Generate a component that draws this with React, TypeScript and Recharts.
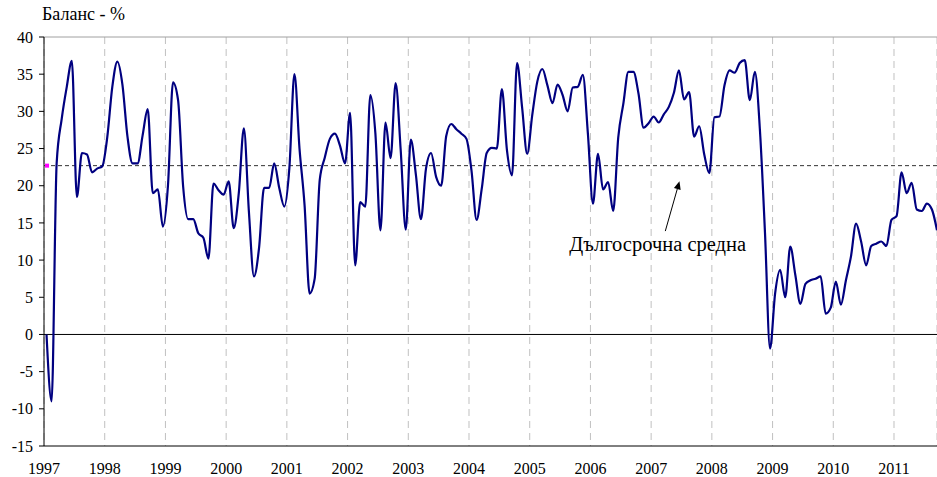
import { LineChart, Line, XAxis, YAxis, CartesianGrid, ReferenceLine, ReferenceDot } from 'recharts';

// monthly balance, one array per year
const v1997 = [0, -9, 23, 29, 33.3, 36.8, 18.5, 24.4, 24.2, 21.8, 22.3, 22.6];
const v1998 = [26.5, 33.3, 36.7, 33.6, 26.6, 23, 23, 26.8, 30.3, 19, 19.5, 14.5];
const v1999 = [20, 33.9, 31.5, 19.9, 15.5, 15.5, 13.6, 13, 10.2, 20.3, 19.4, 18.8];
const v2000 = [20.6, 14.3, 19, 27.7, 16.5, 7.8, 11.6, 19.7, 19.7, 23, 19.7, 17.2];
const v2001 = [22.4, 35, 25, 17.4, 5.5, 7.5, 20.8, 23.8, 26.3, 27, 25.4, 23];
const v2002 = [29.8, 9.3, 17.8, 17.2, 32.2, 27, 14, 28.5, 23.7, 33.8, 24.8, 14.1];
const v2003 = [26.2, 21.5, 15.5, 22.3, 24.4, 21.2, 20, 26.7, 28.3, 27.6, 27, 26.3];
const v2004 = [22, 15.4, 19.5, 24.4, 25.1, 25, 33, 24.8, 21.4, 36.5, 30.5, 24.3];
const v2005 = [29.5, 34, 35.7, 33.5, 31.1, 33.6, 32.2, 30, 33.2, 33.3, 34.9, 27];
const v2006 = [17.6, 24.3, 19.5, 20.5, 16.6, 26.5, 31, 35.3, 35.3, 32.4, 27.8, 28.4];
const v2007 = [29.3, 28.5, 29.6, 30.6, 32.5, 35.5, 31.6, 32.6, 26.6, 28, 24.2, 21.7];
const v2008 = [29.2, 29.3, 33.5, 35.5, 35.2, 36.5, 36.9, 31.5, 35.3, 27.5, 13.7, -1.9];
const v2009 = [5.5, 8.7, 5, 11.8, 8, 4.1, 6.8, 7.3, 7.5, 7.8, 2.8, 3.6];
const v2010 = [7.1, 4, 7.3, 10.5, 14.9, 12.5, 9.3, 11.9, 12.2, 12.5, 11.9, 15.4];
const v2011 = [15.9, 21.8, 19, 20.4, 16.8, 16.6, 17.6, 16.8, 14];

const years = [1997, 1998, 1999, 2000, 2001, 2002, 2003, 2004, 2005, 2006, 2007, 2008, 2009, 2010, 2011];
const yTicks = [-15, -10, -5, 0, 5, 10, 15, 20, 25, 30, 35, 40];
const longTermAvg = 22.7;
const title = 'Баланс - %';
const note = 'Дългосрочна средна';

const monthly = [
  ...v1997, ...v1998, ...v1999, ...v2000, ...v2001, ...v2002, ...v2003, ...v2004,
  ...v2005, ...v2006, ...v2007, ...v2008, ...v2009, ...v2010, ...v2011,
];
// each month sits in the middle of its slot
const data = monthly.map((v, i) => ({ t: i + 0.5, v }));
const xTicks = years.map((_, i) => i * 12);

const font = "'Liberation Serif', 'Times New Roman', serif";

const Arrow = (p: any) => {
  const { x1, y1, x2, y2 } = p;
  const a = Math.atan2(y2 - y1, x2 - x1);
  const len = 8;
  const w = 3.5;
  const bx = x2 - len * Math.cos(a);
  const by = y2 - len * Math.sin(a);
  const pts = [
    `${x2},${y2}`,
    `${bx + w * Math.sin(a)},${by - w * Math.cos(a)}`,
    `${bx - w * Math.sin(a)},${by + w * Math.cos(a)}`,
  ].join(' ');
  return (
    <g>
      <line x1={x1} y1={y1} x2={bx} y2={by} stroke="#000" strokeWidth={1} />
      <polygon points={pts} fill="#000" />
    </g>
  );
};

export default function App() {
  return (
    <div style={{ position: 'absolute', left: 0, top: 0, width: 937, height: 477, background: '#fff' }}>
      <div style={{ position: 'absolute', left: 42, top: 4, fontFamily: font, fontSize: 18, color: '#000' }}>{title}</div>
      <LineChart width={937} height={477} data={data} margin={{ top: 37, right: 0, left: 0, bottom: 0 }}>
        <CartesianGrid horizontal={false} stroke="#c0c0c0" strokeDasharray="7 5" />
        <XAxis
          dataKey="t"
          type="number"
          domain={[0, 176.5]}
          ticks={xTicks}
          tickFormatter={(v: number) => String(years[0] + v / 12)}
          axisLine={{ stroke: '#000' }}
          tickLine={false}
          tickMargin={11}
          height={31}
          tick={{ fill: '#000', fontSize: 16, fontFamily: font }}
          interval={0}
        />
        <YAxis
          domain={[-15, 40]}
          ticks={yTicks}
          width={44}
          axisLine={{ stroke: '#000' }}
          tickLine={{ stroke: '#000' }}
          tickSize={5}
          tickMargin={6}
          tick={{ fill: '#000', fontSize: 16, fontFamily: font }}
          interval={0}
        />
        <ReferenceLine y={40} stroke="#a0a0a0" strokeWidth={1} />
        <ReferenceLine y={0} stroke="#000" strokeWidth={1} />
        <ReferenceLine y={longTermAvg} stroke="#333" strokeWidth={1} strokeDasharray="4 3" />
        <ReferenceDot
          x={0.5}
          y={longTermAvg}
          shape={(p: any) => <rect x={p.cx - 1.5} y={p.cy - 2} width={4} height={4} fill="#ff00ff" />}
        />
        <Line
          dataKey="v"
          type="monotone"
          stroke="#000080"
          strokeWidth={2.2}
          dot={false}
          isAnimationActive={false}
        />
        <ReferenceLine
          segment={[{ x: 122.8, y: 13.9 }, { x: 125.6, y: 20.6 }]}
          shape={Arrow}
        />
        <ReferenceDot
          x={121.3}
          y={11.2}
          shape={(p: any) => (
            <text x={p.cx} y={p.cy} textAnchor="middle" fontFamily={font} fontSize={20.5} fill="#000">
              {note}
            </text>
          )}
        />
      </LineChart>
    </div>
  );
}
